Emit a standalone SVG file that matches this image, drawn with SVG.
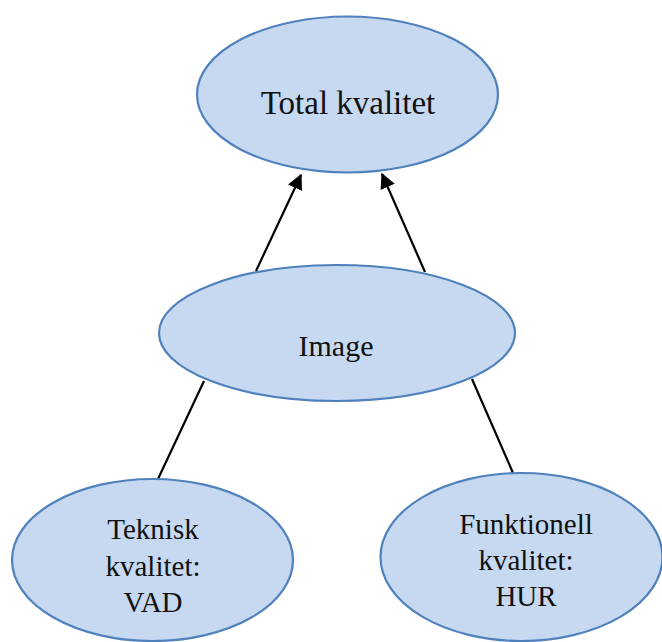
<svg xmlns="http://www.w3.org/2000/svg" width="662" height="642" viewBox="0 0 662 642">
  <style>
    .node ellipse { fill: #C6D9F1; stroke: #4F81BD; stroke-width: 2.2; }
    .node text { font-family: "Liberation Serif", "DejaVu Serif", serif; fill: #111111; text-anchor: middle; }
    .edge { stroke: #000000; stroke-width: 2.2; fill: none; }
  </style>
  <defs>
    <marker id="arrow" viewBox="0 0 12 12" refX="11" refY="6" markerWidth="7" markerHeight="7" orient="auto" markerUnits="strokeWidth">
      <path d="M0,0 L12,6 L0,12 Z" fill="#000000"/>
    </marker>
  </defs>

  <rect width="662" height="642" fill="#FFFFFF"/>

  <!-- connectors -->
  <g id="connectors">
    <line class="edge" x1="256" y1="271" x2="301" y2="175" marker-end="url(#arrow)"/>
    <line class="edge" x1="425" y1="272" x2="382" y2="174" marker-end="url(#arrow)"/>
    <line class="edge" x1="204" y1="381" x2="158" y2="479"/>
    <line class="edge" x1="472" y1="379" x2="513" y2="473"/>
  </g>

  <!-- nodes -->
  <g id="total" class="node">
    <ellipse cx="347.5" cy="94.5" rx="150.5" ry="78"/>
    <text x="348" y="114" font-size="33">Total kvalitet</text>
  </g>

  <g id="image" class="node">
    <ellipse cx="337" cy="333" rx="178" ry="68"/>
    <text x="336" y="356" font-size="30">Image</text>
  </g>

  <g id="teknisk" class="node">
    <ellipse cx="152.5" cy="560" rx="140.5" ry="81"/>
    <text x="153" y="539" font-size="29">Teknisk</text>
    <text x="153" y="576" font-size="29">kvalitet:</text>
    <text x="153" y="612" font-size="29">VAD</text>
  </g>

  <g id="funktionell" class="node">
    <ellipse cx="521.5" cy="557" rx="141" ry="84"/>
    <text x="526" y="534" font-size="29">Funktionell</text>
    <text x="526" y="570" font-size="29">kvalitet:</text>
    <text x="526" y="606" font-size="29">HUR</text>
  </g>
</svg>
